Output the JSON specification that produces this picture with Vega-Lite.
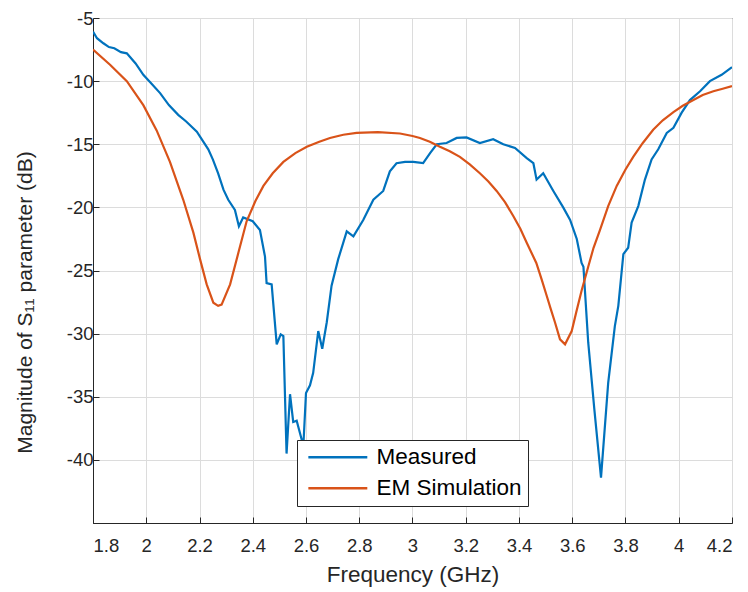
{
  "$schema": "https://vega.github.io/schema/vega-lite/v6.json",
  "width": 639,
  "height": 505,
  "autosize": {"type": "none"},
  "padding": {"left": 93, "top": 18, "right": 16, "bottom": 69},
  "background": "white",
  "config": {
    "view": {"stroke": "#262626", "strokeWidth": 1},
    "font": "Liberation Sans"
  },
  "data": {
    "values": [
      {"f": 1.8, "db": -6.08, "s": "Measured"},
      {"f": 1.815, "db": -6.6, "s": "Measured"},
      {"f": 1.839, "db": -7.0, "s": "Measured"},
      {"f": 1.86, "db": -7.3, "s": "Measured"},
      {"f": 1.88, "db": -7.4, "s": "Measured"},
      {"f": 1.905, "db": -7.7, "s": "Measured"},
      {"f": 1.927, "db": -7.8, "s": "Measured"},
      {"f": 1.96, "db": -8.6, "s": "Measured"},
      {"f": 1.989, "db": -9.5, "s": "Measured"},
      {"f": 2.02, "db": -10.2, "s": "Measured"},
      {"f": 2.052, "db": -10.95, "s": "Measured"},
      {"f": 2.085, "db": -11.9, "s": "Measured"},
      {"f": 2.12, "db": -12.67, "s": "Measured"},
      {"f": 2.15, "db": -13.2, "s": "Measured"},
      {"f": 2.19, "db": -14.0, "s": "Measured"},
      {"f": 2.233, "db": -15.4, "s": "Measured"},
      {"f": 2.25, "db": -16.2, "s": "Measured"},
      {"f": 2.27, "db": -17.3, "s": "Measured"},
      {"f": 2.29, "db": -18.6, "s": "Measured"},
      {"f": 2.308, "db": -19.4, "s": "Measured"},
      {"f": 2.333, "db": -20.2, "s": "Measured"},
      {"f": 2.348, "db": -21.5, "s": "Measured"},
      {"f": 2.364, "db": -20.8, "s": "Measured"},
      {"f": 2.4, "db": -21.1, "s": "Measured"},
      {"f": 2.427, "db": -21.8, "s": "Measured"},
      {"f": 2.446, "db": -23.9, "s": "Measured"},
      {"f": 2.452, "db": -26.0, "s": "Measured"},
      {"f": 2.471, "db": -26.1, "s": "Measured"},
      {"f": 2.49, "db": -30.85, "s": "Measured"},
      {"f": 2.505, "db": -30.06, "s": "Measured"},
      {"f": 2.515, "db": -30.2, "s": "Measured"},
      {"f": 2.527, "db": -39.5, "s": "Measured"},
      {"f": 2.54, "db": -34.8, "s": "Measured"},
      {"f": 2.552, "db": -37.0, "s": "Measured"},
      {"f": 2.565, "db": -36.9, "s": "Measured"},
      {"f": 2.584, "db": -38.4, "s": "Measured"},
      {"f": 2.59, "db": -38.9, "s": "Measured"},
      {"f": 2.6, "db": -34.7, "s": "Measured"},
      {"f": 2.615, "db": -34.1, "s": "Measured"},
      {"f": 2.627, "db": -33.1, "s": "Measured"},
      {"f": 2.646, "db": -29.8, "s": "Measured"},
      {"f": 2.661, "db": -31.2, "s": "Measured"},
      {"f": 2.678, "db": -29.1, "s": "Measured"},
      {"f": 2.696, "db": -26.2, "s": "Measured"},
      {"f": 2.721, "db": -24.1, "s": "Measured"},
      {"f": 2.753, "db": -21.9, "s": "Measured"},
      {"f": 2.778, "db": -22.3, "s": "Measured"},
      {"f": 2.815, "db": -21.0, "s": "Measured"},
      {"f": 2.853, "db": -19.4, "s": "Measured"},
      {"f": 2.89, "db": -18.7, "s": "Measured"},
      {"f": 2.915, "db": -17.15, "s": "Measured"},
      {"f": 2.94, "db": -16.5, "s": "Measured"},
      {"f": 2.972, "db": -16.4, "s": "Measured"},
      {"f": 3.003, "db": -16.4, "s": "Measured"},
      {"f": 3.04, "db": -16.5, "s": "Measured"},
      {"f": 3.066, "db": -15.7, "s": "Measured"},
      {"f": 3.091, "db": -15.0, "s": "Measured"},
      {"f": 3.128, "db": -14.9, "s": "Measured"},
      {"f": 3.166, "db": -14.5, "s": "Measured"},
      {"f": 3.203, "db": -14.46, "s": "Measured"},
      {"f": 3.253, "db": -14.9, "s": "Measured"},
      {"f": 3.303, "db": -14.6, "s": "Measured"},
      {"f": 3.341, "db": -15.0, "s": "Measured"},
      {"f": 3.385, "db": -15.3, "s": "Measured"},
      {"f": 3.429, "db": -16.1, "s": "Measured"},
      {"f": 3.454, "db": -16.5, "s": "Measured"},
      {"f": 3.466, "db": -17.8, "s": "Measured"},
      {"f": 3.491, "db": -17.3, "s": "Measured"},
      {"f": 3.529, "db": -18.7, "s": "Measured"},
      {"f": 3.566, "db": -20.0, "s": "Measured"},
      {"f": 3.592, "db": -21.0, "s": "Measured"},
      {"f": 3.617, "db": -22.5, "s": "Measured"},
      {"f": 3.635, "db": -24.4, "s": "Measured"},
      {"f": 3.642, "db": -24.7, "s": "Measured"},
      {"f": 3.66, "db": -30.7, "s": "Measured"},
      {"f": 3.683, "db": -36.0, "s": "Measured"},
      {"f": 3.708, "db": -41.4, "s": "Measured"},
      {"f": 3.735, "db": -33.9, "s": "Measured"},
      {"f": 3.76, "db": -29.4, "s": "Measured"},
      {"f": 3.773, "db": -27.8, "s": "Measured"},
      {"f": 3.792, "db": -23.7, "s": "Measured"},
      {"f": 3.81, "db": -23.2, "s": "Measured"},
      {"f": 3.823, "db": -21.2, "s": "Measured"},
      {"f": 3.848, "db": -19.9, "s": "Measured"},
      {"f": 3.873, "db": -17.8, "s": "Measured"},
      {"f": 3.898, "db": -16.2, "s": "Measured"},
      {"f": 3.923, "db": -15.4, "s": "Measured"},
      {"f": 3.955, "db": -14.1, "s": "Measured"},
      {"f": 3.98, "db": -13.7, "s": "Measured"},
      {"f": 4.011, "db": -12.5, "s": "Measured"},
      {"f": 4.042, "db": -11.5, "s": "Measured"},
      {"f": 4.08, "db": -10.8, "s": "Measured"},
      {"f": 4.117, "db": -10.0, "s": "Measured"},
      {"f": 4.161, "db": -9.5, "s": "Measured"},
      {"f": 4.2, "db": -8.9, "s": "Measured"},
      {"f": 1.8, "db": -7.5, "s": "EM Simulation"},
      {"f": 1.864, "db": -8.7, "s": "EM Simulation"},
      {"f": 1.927, "db": -10.0, "s": "EM Simulation"},
      {"f": 1.989, "db": -11.9, "s": "EM Simulation"},
      {"f": 2.039, "db": -13.9, "s": "EM Simulation"},
      {"f": 2.089, "db": -16.4, "s": "EM Simulation"},
      {"f": 2.139, "db": -19.4, "s": "EM Simulation"},
      {"f": 2.177, "db": -22.0, "s": "EM Simulation"},
      {"f": 2.202, "db": -24.1, "s": "EM Simulation"},
      {"f": 2.227, "db": -26.1, "s": "EM Simulation"},
      {"f": 2.252, "db": -27.55, "s": "EM Simulation"},
      {"f": 2.27, "db": -27.8, "s": "EM Simulation"},
      {"f": 2.283, "db": -27.7, "s": "EM Simulation"},
      {"f": 2.315, "db": -26.1, "s": "EM Simulation"},
      {"f": 2.346, "db": -23.6, "s": "EM Simulation"},
      {"f": 2.377, "db": -21.1, "s": "EM Simulation"},
      {"f": 2.41, "db": -19.5, "s": "EM Simulation"},
      {"f": 2.44, "db": -18.3, "s": "EM Simulation"},
      {"f": 2.475, "db": -17.3, "s": "EM Simulation"},
      {"f": 2.515, "db": -16.4, "s": "EM Simulation"},
      {"f": 2.56, "db": -15.7, "s": "EM Simulation"},
      {"f": 2.603, "db": -15.2, "s": "EM Simulation"},
      {"f": 2.65, "db": -14.8, "s": "EM Simulation"},
      {"f": 2.69, "db": -14.5, "s": "EM Simulation"},
      {"f": 2.74, "db": -14.25, "s": "EM Simulation"},
      {"f": 2.79, "db": -14.1, "s": "EM Simulation"},
      {"f": 2.87, "db": -14.04, "s": "EM Simulation"},
      {"f": 2.953, "db": -14.15, "s": "EM Simulation"},
      {"f": 3.0, "db": -14.35, "s": "EM Simulation"},
      {"f": 3.028, "db": -14.5, "s": "EM Simulation"},
      {"f": 3.065, "db": -14.8, "s": "EM Simulation"},
      {"f": 3.103, "db": -15.2, "s": "EM Simulation"},
      {"f": 3.14, "db": -15.55, "s": "EM Simulation"},
      {"f": 3.178, "db": -16.0, "s": "EM Simulation"},
      {"f": 3.215, "db": -16.6, "s": "EM Simulation"},
      {"f": 3.253, "db": -17.3, "s": "EM Simulation"},
      {"f": 3.285, "db": -17.95, "s": "EM Simulation"},
      {"f": 3.316, "db": -18.7, "s": "EM Simulation"},
      {"f": 3.348, "db": -19.6, "s": "EM Simulation"},
      {"f": 3.379, "db": -20.7, "s": "EM Simulation"},
      {"f": 3.405, "db": -21.7, "s": "EM Simulation"},
      {"f": 3.429, "db": -22.8, "s": "EM Simulation"},
      {"f": 3.465, "db": -24.4, "s": "EM Simulation"},
      {"f": 3.485, "db": -25.7, "s": "EM Simulation"},
      {"f": 3.504, "db": -27.0, "s": "EM Simulation"},
      {"f": 3.52, "db": -28.1, "s": "EM Simulation"},
      {"f": 3.535, "db": -29.1, "s": "EM Simulation"},
      {"f": 3.554, "db": -30.45, "s": "EM Simulation"},
      {"f": 3.573, "db": -30.85, "s": "EM Simulation"},
      {"f": 3.598, "db": -29.8, "s": "EM Simulation"},
      {"f": 3.615, "db": -28.3, "s": "EM Simulation"},
      {"f": 3.635, "db": -26.6, "s": "EM Simulation"},
      {"f": 3.66, "db": -24.7, "s": "EM Simulation"},
      {"f": 3.68, "db": -23.2, "s": "EM Simulation"},
      {"f": 3.704, "db": -21.8, "s": "EM Simulation"},
      {"f": 3.735, "db": -19.9, "s": "EM Simulation"},
      {"f": 3.767, "db": -18.3, "s": "EM Simulation"},
      {"f": 3.8, "db": -17.0, "s": "EM Simulation"},
      {"f": 3.829, "db": -16.0, "s": "EM Simulation"},
      {"f": 3.865, "db": -14.9, "s": "EM Simulation"},
      {"f": 3.904, "db": -13.85, "s": "EM Simulation"},
      {"f": 3.94, "db": -13.1, "s": "EM Simulation"},
      {"f": 3.98, "db": -12.45, "s": "EM Simulation"},
      {"f": 4.015, "db": -11.95, "s": "EM Simulation"},
      {"f": 4.055, "db": -11.5, "s": "EM Simulation"},
      {"f": 4.09, "db": -11.1, "s": "EM Simulation"},
      {"f": 4.13, "db": -10.8, "s": "EM Simulation"},
      {"f": 4.165, "db": -10.6, "s": "EM Simulation"},
      {"f": 4.2, "db": -10.4, "s": "EM Simulation"}
    ]
  },
  "encoding": {
    "x": {
      "field": "f", "type": "quantitative",
      "scale": {"domain": [1.8, 4.2], "nice": false, "zero": false},
      "axis": {
        "title": "Frequency (GHz)",
        "values": [1.8, 2, 2.2, 2.4, 2.6, 2.8, 3, 3.2, 3.4, 3.6, 3.8, 4, 4.2],
        "labelExpr": "'' + datum.value",
        "labelFontSize": 18.5, "labelColor": "#262626", "labelPadding": 19,
        "titleFontSize": 22.5, "titleFontWeight": "normal", "titleColor": "#262626", "titlePadding": 9,
        "domainColor": "#262626", "tickColor": "#262626", "tickSize": -6,
        "gridColor": "#dcdcdc", "gridWidth": 1
      }
    },
    "y": {
      "field": "db", "type": "quantitative",
      "scale": {"domain": [-45, -5], "nice": false, "zero": false},
      "axis": {
        "title": "Magnitude of S₁₁ parameter (dB)",
        "values": [-45, -40, -35, -30, -25, -20, -15, -10, -5],
        "labelExpr": "datum.value == -45 ? '' : '' + datum.value",
        "labelFontSize": 18.5, "labelColor": "#262626", "labelPadding": 6,
        "titleFontSize": 21, "titleFontWeight": "normal", "titleColor": "#262626", "titlePadding": 31,
        "titleY": 284,
        "domainColor": "#262626", "tickColor": "#262626", "tickSize": -6,
        "gridColor": "#dcdcdc", "gridWidth": 1
      }
    },
    "color": {
      "field": "s", "type": "nominal",
      "scale": {"domain": ["Measured", "EM Simulation"], "range": ["#0072BD", "#D95319"]},
      "legend": {
        "title": null,
        "orient": "none", "legendX": 204, "legendY": 422,
        "symbolType": "M-1,0H9", "symbolSize": 139, "symbolStrokeWidth": 2.5,
        "labelFontSize": 22.5, "labelColor": "#000000", "labelOffset": 51,
        "strokeColor": "#262626", "fillColor": "white", "padding": 6, "rowPadding": 8
      }
    }
  },
  "layer": [
    {"transform": [{"filter": "datum.s == 'Measured'"}], "mark": {"type": "line", "strokeWidth": 2.2, "clip": true}},
    {"transform": [{"filter": "datum.s == 'EM Simulation'"}], "mark": {"type": "line", "strokeWidth": 2.2, "clip": true}}
  ]
}
